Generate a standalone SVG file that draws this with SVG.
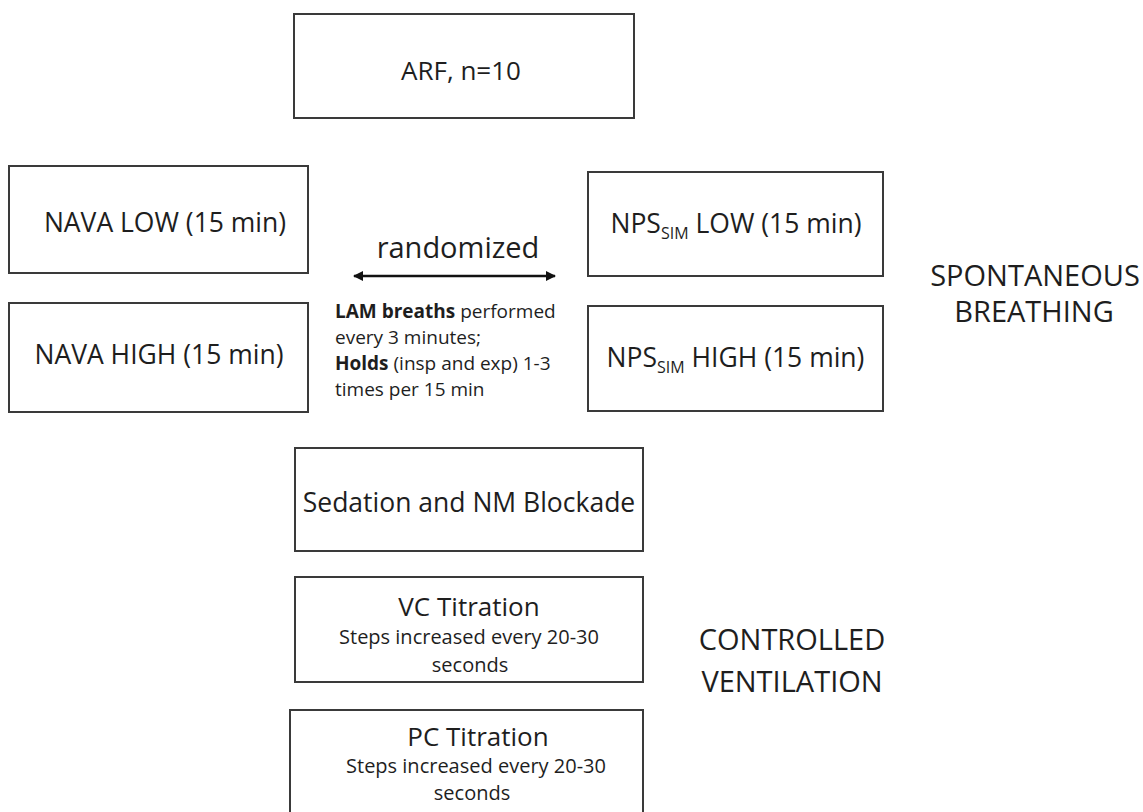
<svg xmlns="http://www.w3.org/2000/svg" width="1143" height="812" viewBox="0 0 1143 812">
<style>
  .box { fill: #ffffff; stroke: #3a3a3a; stroke-width: 2; }
  text { font-family: "Open Sans", "Liberation Sans", sans-serif; fill: #1e1e1e; }
  .lbl { font-size: 26.5px; text-anchor: middle; }
  .big { font-size: 29px; text-anchor: middle; }
  .sub { font-size: 16px; }
  .note { font-size: 19px; }
  .small { font-size: 20px; text-anchor: middle; }
  .b { font-weight: bold; }
</style>
<defs>
  <marker id="ah" viewBox="0 0 10 10" refX="9" refY="5" markerWidth="4.4" markerHeight="4" markerUnits="strokeWidth" orient="auto-start-reverse">
    <path d="M0,0 L10,5 L0,10 Z" fill="#111"/>
  </marker>
</defs>
<rect width="1143" height="812" fill="#ffffff"/>

<g id="connectors">
  <line x1="354" y1="276" x2="555" y2="276" stroke="#111" stroke-width="2.5" marker-start="url(#ah)" marker-end="url(#ah)"/>
</g>

<g id="arf">
  <rect class="box" x="294" y="14" width="340" height="104"/>
  <text class="lbl" x="461" y="80" style="font-size:26px">ARF, n=10</text>
</g>

<g id="nava-low">
  <rect class="box" x="9" y="166" width="299" height="107"/>
  <text class="lbl" x="165" y="232">NAVA LOW (15 min)</text>
</g>

<g id="nava-high">
  <rect class="box" x="9" y="303" width="299" height="109"/>
  <text class="lbl" x="159" y="364">NAVA HIGH (15 min)</text>
</g>

<g id="nps-low">
  <rect class="box" x="588" y="172" width="295" height="104"/>
  <text class="lbl" x="736" y="233">NPS<tspan class="sub" dy="6">SIM</tspan><tspan dy="-6"> LOW (15 min)</tspan></text>
</g>

<g id="nps-high">
  <rect class="box" x="588" y="306" width="295" height="105"/>
  <text class="lbl" x="735.5" y="367">NPS<tspan class="sub" dy="6">SIM</tspan><tspan dy="-6"> HIGH (15 min)</tspan></text>
</g>

<g id="randomized">
  <text class="big" x="458" y="258">randomized</text>
  <text class="note" x="335" y="318"><tspan class="b">LAM breaths</tspan> performed</text>
  <text class="note" x="335" y="344">every 3 minutes;</text>
  <text class="note" x="335" y="370"><tspan class="b">Holds</tspan> (insp and exp) 1-3</text>
  <text class="note" x="335" y="396">times per 15 min</text>
</g>

<g id="spontaneous">
  <text class="big" x="1035" y="286">SPONTANEOUS</text>
  <text class="big" x="1034" y="322">BREATHING</text>
</g>

<g id="sedation">
  <rect class="box" x="295" y="448" width="348" height="103"/>
  <text class="lbl" x="469" y="512">Sedation and NM Blockade</text>
</g>

<g id="vc">
  <rect class="box" x="295" y="577" width="348" height="105"/>
  <text class="lbl" x="469" y="616" style="font-size:26px">VC Titration</text>
  <text class="small" x="469" y="644">Steps increased every 20-30</text>
  <text class="small" x="470" y="672">seconds</text>
</g>

<g id="controlled">
  <text class="big" x="792" y="650">CONTROLLED</text>
  <text class="big" x="792" y="692">VENTILATION</text>
</g>

<g id="pc">
  <rect class="box" x="290" y="710" width="353" height="120"/>
  <text class="lbl" x="478" y="746" style="font-size:26px">PC Titration</text>
  <text class="small" x="476" y="773">Steps increased every 20-30</text>
  <text class="small" x="472" y="800">seconds</text>
</g>
</svg>
